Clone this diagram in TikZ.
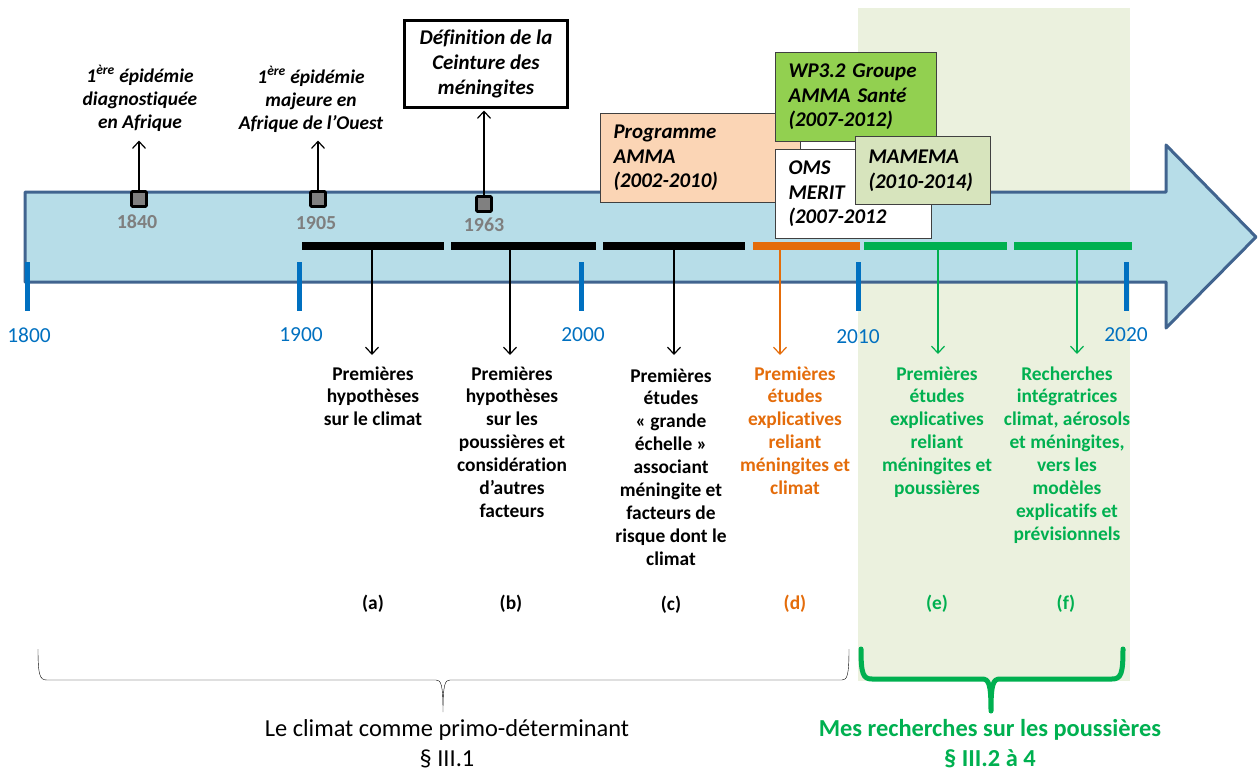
\documentclass[tikz,border=0pt]{standalone}
\usepackage{fontspec}
\setmainfont{Carlito}[Ligatures=NoCommon]
\usetikzlibrary{arrows.meta}
\definecolor{flèche}{HTML}{B7DDE8}
\definecolor{bordfleche}{HTML}{41648F}
\definecolor{bleuan}{HTML}{0070C0}
\definecolor{gristxt}{HTML}{7F7F7F}
\definecolor{orangeper}{HTML}{E46C0A}
\definecolor{vertper}{HTML}{00B050}
\definecolor{fondvert}{HTML}{EBF1DE}
\definecolor{vertwp}{HTML}{92D050}
\definecolor{vertmam}{HTML}{D7E4BD}
\definecolor{peche}{HTML}{FBD5B5}
\begin{document}
\begin{tikzpicture}[
	x=1bp, y=-1bp,
	>={Straight Barb[length=7bp,width=13bp]},
	ev/.style={font=\fontsize{19.5}{23}\selectfont\bfseries\itshape, align=center, inner sep=2bp},
	proj/.style={draw=black!75, line width=1.2bp, font=\fontsize{21}{24.5}\selectfont\bfseries\itshape,
		align=left, anchor=north west, inner xsep=13bp},
	sq/.style={draw, line width=2.6bp, fill=black!50, minimum size=15bp, inner sep=0pt, rounded corners=1bp},
	yr/.style={font=\fontsize{21.5}{24}\selectfont, text=bleuan},
	yrg/.style={font=\fontsize{20}{23}\selectfont\bfseries, text=gristxt},
	anchorline/.style={line width=5bp, draw=bleuan},
	barre/.style={line width=7.5bp},
	res/.style={font=\fontsize{19.5}{23}\selectfont\bfseries, align=center, anchor=north, inner sep=2bp},
	lettre/.style={font=\fontsize{19.5}{22}\selectfont\bfseries},
	fl/.style={->, line width=1.2bp},
	thick
	]
	\useasboundingbox (0,0) rectangle (1259,771);
	% --- fond de mes recherches ---
	\fill[fondvert] (858,8) rectangle (1130,681);
	% --- la grande flèche du temps ---
	\draw[fill=flèche, draw=bordfleche, line width=3bp, line join=round]
		(25,192) -- (1166,192) -- (1166,145) -- (1256,237) -- (1166,328) -- (1166,282) -- (25,282) -- cycle;
	% --- graduations ---
	\draw[anchorline] (27,262) -- (27,311);
	\draw[anchorline] (299,262) -- (299,311);
	\draw[anchorline] (581,262) -- (581,311);
	\draw[anchorline] (858,262) -- (858,311);
	\draw[anchorline] (1126,262) -- (1126,311);
	\node[yr] (y1800) at (29,335) {1800};
	\node[yr] (y1900) at (301,335) {1900};
	\node[yr] (y2000) at (583,335) {2000};
	\node[yr] (y2010) at (858,337) {2010};
	\node[yr] (y2020) at (1126,335) {2020};
	% --- événements ---
	\node[sq] (m1840) at (139,199) {};
	\node[sq] (m1905) at (318,199) {};
	\node[sq] (m1963) at (484,204) {};
	\node[yrg] (d1840) at (137,222) {1840};
	\node[yrg] (d1905) at (316,223) {1905};
	\node[yrg] (d1963) at (484,225) {1963};
	\node[ev, anchor=north] (t1840) at (140,63) {1\textsuperscript{ère} épidémie\\diagnostiquée\\en Afrique};
	\node[ev, anchor=north] (t1905) at (311,64) {1\textsuperscript{ère} épidémie\\majeure en\\Afrique de l’Ouest};
	\node[ev, font=\fontsize{21}{25.5}\selectfont\bfseries\itshape, draw, line width=3bp,
		minimum width=163bp, minimum height=86bp] (tceint) at (486,64)
		{Définition de la\\Ceinture des\\méningites};
	\draw[fl, shorten >=7bp] (m1840.north) -- (m1840.north |- t1840.south);
	\draw[fl, shorten >=6bp] (m1905.north) -- (m1905.north |- t1905.south);
	\draw[fl, shorten >=2bp] (m1963.north) -- (m1963.north |- tceint.south);
	% --- programmes ---
	\node[proj, fill=peche, text width=174bp, minimum height=89bp] (amma) at (600,113)
		{Programme\\AMMA\\(2002-2010)};
	\node[proj, fill=vertwp, text width=135bp, minimum height=89bp] (wp) at (775,52)
		{WP3.2 Groupe\\AMMA Santé\\(2007-2012)};
	\node[proj, fill=white, text width=130bp, minimum height=89bp] (oms) at (775,149)
		{OMS\\MERIT\\(2007-2012};
	\node[proj, fill=vertmam, text width=109bp, minimum height=68bp] (mam) at (855,136)
		{MAMEMA\\(2010-2014)};
	% --- périodes ---
	\draw[barre] (302,246) -- (444,246);
	\draw[barre] (451,246) -- (596,246);
	\draw[barre] (603,246) -- (745,246);
	\draw[barre, orangeper] (753,246) -- (860,246);
	\draw[barre, vertper] (864,246) -- (1007,246);
	\draw[barre, vertper] (1014,246) -- (1132,246);
	\coordinate (ba) at (372,250);
	\coordinate (bb) at (510,250);
	\coordinate (bc) at (674,250);
	\coordinate (bd) at (780,250);
	\coordinate (be) at (938,250);
	\coordinate (bf) at (1077,250);
	% --- résultats ---
	\node[res] (ra) at (373,364) {Premières\\hypothèses\\sur le climat};
	\node[res] (rb) at (512,364) {Premières\\hypothèses\\sur les\\poussières et\\considération\\d’autres\\facteurs};
	\node[res] (rc) at (671,366) {Premières\\études\\« grande\\échelle »\\associant\\méningite et\\facteurs de\\risque dont le\\climat};
	\node[res, text=orangeper] (rd) at (795,364) {Premières\\études\\explicatives\\reliant\\méningites et\\climat};
	\node[res, text=vertper] (re) at (937,364) {Premières\\études\\explicatives\\reliant\\méningites et\\poussières};
	\node[res, text=vertper] (rf) at (1067,364) {Recherches\\intégratrices\\climat, aérosols\\et méningites,\\vers les\\modèles\\explicatifs et\\prévisionnels};
	\draw[fl, shorten >=9bp] (ba) -- (ba |- ra.north);
	\draw[fl, shorten >=9bp] (bb) -- (bb |- rb.north);
	\draw[fl, shorten >=11bp] (bc) -- (bc |- rc.north);
	\draw[fl, shorten >=9bp, orangeper] (bd) -- (bd |- rd.north);
	\draw[fl, shorten >=10bp, vertper] (be) -- (be |- re.north);
	\draw[fl, shorten >=10bp, vertper] (bf) -- (bf |- rf.north);
	\node[lettre] (la) at (373,604) {(a)};
	\node[lettre] (lb) at (511,604) {(b)};
	\node[lettre] (lc) at (671,605) {(c)};
	\node[lettre, text=orangeper] (ld) at (795,604) {(d)};
	\node[lettre, text=vertper] (le) at (937,604) {(e)};
	\node[lettre, text=vertper] (lf) at (1066,604) {(f)};
	% --- accolades ---
	\draw[thin] (38,649) .. controls (38,676) and (40,680) .. (47,680) -- (436,680)
		.. controls (441,680) and (443,684) .. (443,712)
		.. controls (443,684) and (445,680) .. (450,680) -- (842,680)
		.. controls (847,680) and (849,676) .. (849,649);
	\draw[vertper, line width=5bp, line cap=round, line join=round]
		(861,649) .. controls (861,674) and (863,679) .. (872,679) -- (982,679)
		.. controls (989,679) and (991,684) .. (991,711)
		.. controls (991,684) and (993,679) .. (1000,679) -- (1112,679)
		.. controls (1121,679) and (1123,674) .. (1123,649);
	\node[font=\fontsize{24.5}{30}\selectfont, align=center] (climat) at (447,744)
		{Le climat comme primo-déterminant\\§ III.1};
	\node[font=\fontsize{24.5}{30}\selectfont\bfseries, text=vertper, align=center] (mesrech) at (990,744)
		{Mes recherches sur les poussières\\§ III.2 à 4};
\end{tikzpicture}
\end{document}
